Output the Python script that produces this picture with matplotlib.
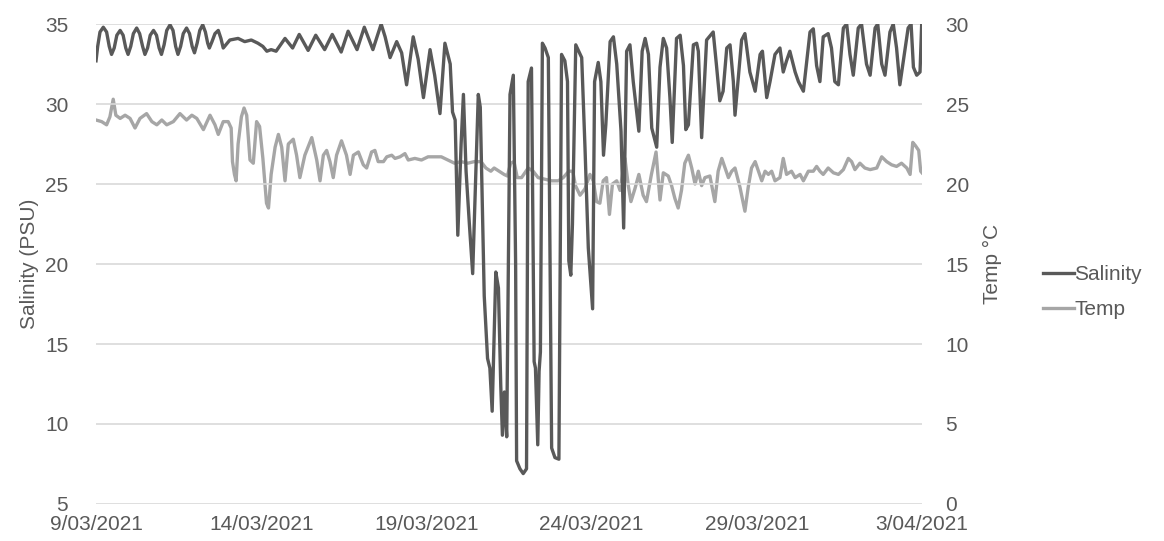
import matplotlib.pyplot as plt

plt.rcParams['font.family'] = ['Liberation Sans', 'DejaVu Sans']

# days since 9/03/2021
sal_day = [0.00, 0.05, 0.12, 0.22, 0.32, 0.40, 0.47, 0.55, 0.63, 0.73, 0.82, 0.90, 0.97,
           1.05, 1.13, 1.23, 1.32, 1.41, 1.48, 1.56, 1.64, 1.74, 1.83, 1.91, 1.98, 2.06,
           2.14, 2.24, 2.33, 2.41, 2.48, 2.56, 2.64, 2.74, 2.83, 2.91, 2.98, 3.06, 3.14,
           3.23, 3.31, 3.38, 3.43, 3.51, 3.60, 3.70, 3.78, 3.85, 4.05, 4.30, 4.50, 4.70,
           4.90, 5.05, 5.17, 5.30, 5.45, 5.72, 5.95, 6.15, 6.42, 6.65, 6.92, 7.15, 7.42,
           7.63, 7.90, 8.12, 8.38, 8.63, 8.75, 8.90, 9.10, 9.25, 9.40, 9.60, 9.75, 9.91,
           10.11, 10.25, 10.41, 10.56, 10.72, 10.79, 10.87, 10.95, 11.05, 11.12, 11.20,
           11.30, 11.40, 11.50, 11.57, 11.63, 11.75, 11.85, 11.92, 11.99, 12.10, 12.18,
           12.25, 12.30, 12.36, 12.43, 12.53, 12.63, 12.70, 12.73, 12.83, 12.93, 13.03,
           13.08, 13.18, 13.26, 13.30, 13.37, 13.41, 13.45, 13.51, 13.59, 13.69, 13.79,
           13.89, 14.01, 14.09, 14.19, 14.27, 14.31, 14.37, 14.42, 14.52, 14.70, 14.80,
           14.90, 15.03, 15.09, 15.20, 15.28, 15.36, 15.43, 15.56, 15.66, 15.76, 15.89,
           15.97, 16.06, 16.16, 16.26, 16.43, 16.53, 16.62, 16.72, 16.82, 16.97, 17.07,
           17.17, 17.27, 17.37, 17.44, 17.57, 17.68, 17.78, 17.85, 17.93, 18.08, 18.18,
           18.23, 18.33, 18.48, 18.68, 18.78, 18.88, 18.98, 19.09, 19.19, 19.29, 19.34,
           19.54, 19.64, 19.79, 19.95, 20.10, 20.17, 20.30, 20.40, 20.55, 20.70, 20.80,
           20.90, 21.00, 21.16, 21.26, 21.41, 21.61, 21.71, 21.81, 21.91, 22.01, 22.16,
           22.26, 22.36, 22.47, 22.62, 22.72, 22.82, 22.92, 23.07, 23.17, 23.32, 23.43,
           23.58, 23.66, 23.78, 23.88, 24.03, 24.13, 24.23, 24.33, 24.58, 24.67, 24.74,
           24.84, 24.94, 24.99]
sal_val = [32.7, 33.6, 34.5, 34.8, 34.5, 33.6, 33.1, 33.5, 34.3, 34.6, 34.3, 33.5, 33.1,
           33.6, 34.4, 34.75, 34.4, 33.6, 33.1, 33.5, 34.3, 34.6, 34.3, 33.5, 33.1, 33.7,
           34.6, 34.95, 34.6, 33.6, 33.1, 33.6, 34.4, 34.75, 34.4, 33.6, 33.2, 33.8, 34.6,
           34.95, 34.5, 33.8, 33.5, 33.9, 34.4, 34.6, 34.1, 33.5, 34.0, 34.1, 33.9, 34.0,
           33.8, 33.6, 33.3, 33.4, 33.3, 34.1, 33.5, 34.35, 33.35, 34.3, 33.4, 34.35, 33.25,
           34.55, 33.4, 34.8, 33.4, 35.0, 34.2, 32.9, 33.9, 33.2, 31.2, 34.2, 32.8, 30.4,
           33.4, 31.8, 29.4, 33.8, 32.5, 29.5, 29.0, 21.8, 27.5, 30.6, 25.8,
           22.5, 19.4, 26.0, 30.6, 29.8, 18.0, 14.1, 13.5, 10.8, 19.5, 18.5,
           12.4, 9.3, 12.0, 9.2, 30.6, 31.8, 20.0, 7.7, 7.2, 6.9, 7.2,
           31.4, 32.25, 13.9, 13.5, 8.7, 13.3, 14.5, 33.8, 33.5, 32.9, 8.5,
           7.9, 7.8, 33.1, 32.7, 31.4, 20.2, 19.3, 22.5, 33.7, 32.9, 27.25,
           21.0, 17.2, 31.4, 32.6, 31.4, 26.8, 28.7, 33.9, 34.2, 32.5, 28.3,
           22.25, 33.3, 33.7, 31.4, 28.3, 33.3, 34.1, 33.1, 28.5, 27.3, 32.3,
           34.1, 33.5, 30.4, 27.6, 34.1, 34.3, 32.4, 28.4, 28.7, 33.7, 33.8,
           33.3, 27.9, 34.0, 34.5, 32.4, 30.2, 30.8, 33.5, 33.7, 31.4, 29.3,
           34.0, 34.4, 32.0, 30.8, 33.1, 33.3, 30.4, 31.4, 33.1, 33.5, 32.0,
           32.7, 33.3, 32.0, 31.4, 30.8, 34.5, 34.7, 32.4, 31.4, 34.2, 34.4,
           33.5, 31.4, 31.2, 34.75, 35.0, 33.1, 31.8, 34.75, 35.0, 32.5, 31.8,
           34.75, 35.0, 32.5, 31.8, 34.5, 35.0, 33.5, 31.2, 34.75, 35.0, 32.3,
           31.8, 32.0, 35.0]

temp_day = [0.00, 0.17, 0.32, 0.42, 0.52, 0.60, 0.73, 0.88, 1.03, 1.18, 1.33, 1.53, 1.69,
            1.84, 1.99, 2.14, 2.34, 2.54, 2.74, 2.90, 3.05, 3.25, 3.45, 3.60, 3.70, 3.85,
            4.00, 4.09, 4.13, 4.19, 4.24, 4.30, 4.40, 4.48, 4.56, 4.66, 4.76, 4.86, 4.95,
            5.05, 5.16, 5.22, 5.30, 5.42, 5.52, 5.62, 5.72, 5.82, 5.97, 6.07, 6.17, 6.32,
            6.53, 6.68, 6.78, 6.88, 6.98, 7.08, 7.18, 7.28, 7.43, 7.58, 7.69, 7.79, 7.94,
            8.09, 8.19, 8.34, 8.44, 8.54, 8.70, 8.80, 8.95, 9.05, 9.20, 9.35, 9.45, 9.65,
            9.85, 10.05, 10.25, 10.45, 10.65, 10.85, 11.05, 11.25, 11.45, 11.65, 11.80,
            11.95, 12.05, 12.20, 12.35, 12.45, 12.55, 12.65, 12.75, 12.88, 13.08, 13.23,
            13.38, 13.59, 13.79, 13.99, 14.14, 14.31, 14.43, 14.51, 14.65, 14.80, 14.95,
            15.05, 15.15, 15.25, 15.35, 15.45, 15.54, 15.63, 15.76, 15.86, 16.01, 16.11,
            16.19, 16.31, 16.43, 16.56, 16.66, 16.81, 16.95, 17.03, 17.07, 17.17, 17.32,
            17.42, 17.52, 17.62, 17.72, 17.82, 17.93, 18.03, 18.13, 18.23, 18.33, 18.43,
            18.58, 18.73, 18.83, 18.94, 19.04, 19.14, 19.24, 19.34, 19.49, 19.64, 19.74,
            19.84, 19.95, 20.05, 20.15, 20.25, 20.35, 20.45, 20.55, 20.70, 20.80, 20.90,
            21.05, 21.16, 21.31, 21.41, 21.56, 21.71, 21.81, 21.91, 22.01, 22.16, 22.32,
            22.47, 22.62, 22.77, 22.87, 22.97, 23.12, 23.27, 23.43, 23.63, 23.78, 23.93,
            24.08, 24.23, 24.38, 24.54, 24.64, 24.72, 24.80, 24.90, 24.96, 25.00]
temp_val = [24.0, 23.9, 23.7, 24.2, 25.3, 24.3, 24.1, 24.3, 24.1, 23.5, 24.1, 24.4, 23.9,
            23.7, 24.0, 23.7, 23.9, 24.4, 24.0, 24.3, 24.1, 23.4, 24.3, 23.7, 23.1, 23.9,
            23.9, 23.5, 21.4, 20.6, 20.2, 22.5, 24.2, 24.75, 24.3, 21.5, 21.3, 23.9, 23.6,
            21.6, 18.8, 18.5, 20.6, 22.3, 23.1, 22.3, 20.2, 22.5, 22.8, 21.8, 20.4, 21.8,
            22.9, 21.5, 20.2, 21.8, 22.1, 21.4, 20.4, 21.8, 22.7, 21.8, 20.6, 21.8, 22.0,
            21.2, 21.0, 22.0, 22.1, 21.4, 21.4, 21.7, 21.8, 21.6, 21.7, 21.9, 21.5, 21.6,
            21.5, 21.7, 21.7, 21.7, 21.5, 21.3, 21.4, 21.3, 21.4, 21.4, 21.0,
            20.8, 21.0, 20.8, 20.6, 20.5, 21.3, 21.4, 20.4, 20.4, 21.0, 20.8,
            20.4, 20.3, 20.2, 20.2, 20.4, 20.8, 20.8, 19.9, 19.3, 19.7, 20.6,
            20.2, 18.9, 18.8, 20.2, 20.4, 18.1, 20.0, 20.2, 19.6, 21.6, 19.9,
            18.9, 19.7, 20.6, 19.3, 18.9, 20.6, 22.0, 20.0, 19.0, 20.7, 20.5,
            19.9, 19.1, 18.5, 19.6, 21.3, 21.8, 21.0, 20.0, 20.8, 19.9, 20.4,
            20.5, 18.9, 20.8, 21.6, 21.0, 20.4, 20.8, 21.0, 19.8, 18.3, 19.8,
            21.0, 21.4, 20.8, 20.2, 20.8, 20.6, 20.8, 20.2, 20.4, 21.6, 20.6,
            20.8, 20.4, 20.6, 20.2, 20.8, 20.8, 21.1, 20.8, 20.6, 21.0, 20.7,
            20.6, 20.9, 21.6, 21.4, 20.9, 21.3, 21.0, 20.9, 21.0, 21.7, 21.4,
            21.2, 21.1, 21.3, 21.0, 20.6, 22.6, 22.4, 22.1, 20.8, 20.7]

date_ticks = [0, 5, 10, 15, 20, 25]
date_labels = ['9/03/2021', '14/03/2021', '19/03/2021', '24/03/2021', '29/03/2021', '3/04/2021']

TXT = '#595959'

fig = plt.figure(figsize=(11.64, 5.41), dpi=100)
ax = fig.add_axes([0.0825, 0.0684, 0.7096, 0.8872])
ax2 = ax.twinx()

ax.plot(sal_day, sal_val, color='#595959', lw=2.4, label='Salinity', zorder=3,
        solid_joinstyle='round')
ax2.plot(temp_day, temp_val, color='#a6a6a6', lw=2.4, label='Temp', zorder=2,
         solid_joinstyle='round')
ax.set_zorder(ax2.get_zorder() + 1)
ax.patch.set_visible(False)

ax.set_xlim(0, 25)
ax.set_ylim(5, 35)
ax2.set_ylim(0, 30)
ax.set_yticks(range(5, 36, 5))
ax2.set_yticks(range(0, 31, 5))
ax.set_xticks(date_ticks)
ax.set_xticklabels(date_labels)

ax.grid(axis='y', color='#d9d9d9', lw=1.2)
ax.set_axisbelow(True)
for a in (ax, ax2):
    for s in a.spines.values():
        s.set_visible(False)
ax.tick_params(axis='y', length=0, pad=20, labelsize=15, labelcolor=TXT)
ax.tick_params(axis='x', length=0, pad=8, labelsize=15, labelcolor=TXT)
ax2.tick_params(axis='y', length=0, pad=17, labelsize=15, labelcolor=TXT)

ax.set_ylabel('Salinity (PSU)', fontsize=15, color=TXT, labelpad=4)
ax2.set_ylabel('Temp °C', fontsize=15, color=TXT, labelpad=10)

h1, l1 = ax.get_legend_handles_labels()
h2, l2 = ax2.get_legend_handles_labels()
fig.legend(h1 + h2, l1 + l2, loc='center left', bbox_to_anchor=(0.88, 0.46),
           frameon=False, fontsize=15, handlelength=1.5, handletextpad=0.0,
           labelcolor=TXT, labelspacing=0.75)

fig.savefig('out.png', dpi=100)
